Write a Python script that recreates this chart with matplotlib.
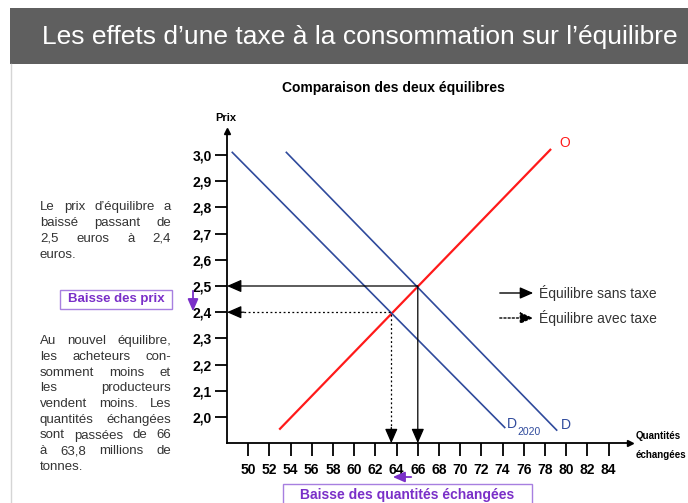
"""Effets d'une taxe à la consommation sur l'équilibre : offre, deux demandes."""
import matplotlib
matplotlib.use("Agg")
import matplotlib.pyplot as plt
from matplotlib.patches import Rectangle, FancyArrowPatch

W, H = 688, 503

# --- data ---
offre_q = [53.0, 78.5]
offre_p = [1.955, 3.02]
demande_q = [53.6, 79.1]
demande_p = [3.01, 1.95]
demande2020_q = [48.5, 74.2]
demande2020_p = [3.01, 1.96]
eq_sans_taxe = (66.0, 2.5)
eq_avec_taxe = (63.5, 2.4)
x_ticks = list(range(50, 86, 2))
y_ticks = [2.0, 2.1, 2.2, 2.3, 2.4, 2.5, 2.6, 2.7, 2.8, 2.9, 3.0]
y_labels = ["2,0", "2,1", "2,2", "2,3", "2,4", "2,5", "2,6", "2,7", "2,8", "2,9", "3,0"]

_RED, _BLUE, _PURPLE, _TXT = "#ff1a1a", "#2f4a9c", "#7a2fc8", "#333333"
_SANS = ["Liberation Sans", "DejaVu Sans"]


def px(x, y):
    return x / W, 1 - y / H


def justify(fig, lines, x0, x1, y0, dy, **kw):
    r = fig.canvas.get_renderer()
    for i, line in enumerate(lines):
        words = line.split()
        y = y0 + i * dy
        if i == len(lines) - 1 or len(words) == 1:
            fig.text(*px(x0, y), line, va="center", **kw)
            continue
        ts = [fig.text(*px(0, y), w, va="center", **kw) for w in words]
        ws = [t.get_window_extent(r).width for t in ts]
        gap = (x1 - x0 - sum(ws)) / (len(words) - 1)
        x = x0
        for t, w in zip(ts, ws):
            t.set_x(x / W)
            x += w + gap


def farrow(fig, p0, p1, color, ls="-", lw=1.0, ms=10):
    fig.patches.append(FancyArrowPatch(px(*p0), px(*p1), transform=fig.transFigure,
                                       arrowstyle="-|>,head_length=0.8,head_width=0.35",
                                       mutation_scale=ms, color=color, lw=lw, ls=ls))


fig = plt.figure(figsize=(W / 100, H / 100), dpi=100, facecolor="white")

# title bar
fig.patches.append(Rectangle(px(10, 64), 678 / W, 56 / H, transform=fig.transFigure,
                             facecolor="#5f5f5f", edgecolor="none"))
fig.add_artist(plt.Line2D([11 / W, 11 / W], [1 - 64 / H, 0], color="#d5d5d5", lw=1))
fig.text(*px(42, 37), "Les effets d’une taxe à la consommation sur l’équilibre",
         color="white", fontsize=19, family=_SANS, va="center")

fig.text(*px(393, 88), "Comparaison des deux équilibres", fontsize=10,
         fontweight="bold", family=_SANS, ha="center", va="center")

# chart axes: x 48..86, y 1.9..3.09
x0p, x1p = 227, 227 + 38 * 10.6
y0p, y1p = 417 + 26.2, 155 - 0.09 * 262
ax = fig.add_axes([x0p / W, 1 - y0p / H, (x1p - x0p) / W, (y0p - y1p) / H])
ax.set_xlim(48, 86)
ax.set_ylim(1.9, 3.09)
ax.set_facecolor("none")
for s in ("top", "right"):
    ax.spines[s].set_visible(False)
for s in ("left", "bottom"):
    ax.spines[s].set_linewidth(1.3)
ax.plot(1, 0, ">k", ms=4, transform=ax.transAxes, clip_on=False)
ax.plot(0, 1, "^k", ms=4, transform=ax.transAxes, clip_on=False)
ax.set_xticks(x_ticks)
ax.set_xticklabels([str(v) for v in x_ticks], fontsize=10, fontweight="bold", family=_SANS)
ax.set_yticks(y_ticks)
ax.set_yticklabels(y_labels, fontsize=10, fontweight="bold", family=_SANS)
ax.tick_params(direction="out", length=9, width=1.3, pad=2)
ax.tick_params(axis="x", pad=5)

ax.plot(offre_q, offre_p, color=_RED, lw=1.6, clip_on=False)
ax.plot(demande_q, demande_p, color=_BLUE, lw=1.2, clip_on=False)
ax.plot(demande2020_q, demande2020_p, color=_BLUE, lw=1.2, clip_on=False)

# equilibrium guides
hs = "-|>,head_length=0.8,head_width=0.35"
aprops = dict(arrowstyle=hs, color="k", lw=0.9, mutation_scale=11, shrinkA=0, shrinkB=0)
qa, pa = eq_sans_taxe
ax.annotate("", xy=(48, pa), xytext=(qa, pa), arrowprops=aprops)
ax.annotate("", xy=(qa, 1.9), xytext=(qa, pa), arrowprops=aprops)
qb, pb = eq_avec_taxe
ax.plot([48.8, qb], [pb, pb], ls=(0, (1.5, 2)), color="k", lw=0.9)
ax.plot([qb, qb], [1.95, pb], ls=(0, (1.5, 2)), color="k", lw=0.9)
ax.annotate("", xy=(48, pb), xytext=(49.6, pb), arrowprops=aprops)
ax.annotate("", xy=(qb, 1.9), xytext=(qb, 1.96), arrowprops=aprops)

# curve labels
fig.text(*px(559, 143), "O", color=_RED, fontsize=10, family=_SANS, va="center")
fig.text(*px(561, 425), "D", color=_BLUE, fontsize=10, family=_SANS, va="center")
fig.text(*px(507, 424), "D", color=_BLUE, fontsize=10, family=_SANS, va="center")
fig.text(*px(517, 432), "2020", color=_BLUE, fontsize=7.5, family=_SANS, va="center")

fig.text(*px(226, 118), "Prix", fontsize=8, fontweight="bold", family=_SANS,
         ha="center", va="center")
fig.text(*px(636, 436), "Quantités", fontsize=7, fontweight="bold", family=_SANS, va="center")
fig.text(*px(636, 455), "échangées", fontsize=7, fontweight="bold", family=_SANS, va="center")

# legend
farrow(fig, (497, 293), (536, 293), "k", lw=1.0)
farrow(fig, (497, 318), (536, 318), "k", ls=(0, (1.5, 1.5)), lw=1.0)
fig.text(*px(539, 293), "Équilibre sans taxe", fontsize=10, family=_SANS, color=_TXT, va="center")
fig.text(*px(539, 318), "Équilibre avec taxe", fontsize=10, family=_SANS, color=_TXT, va="center")

# left commentary
justify(fig, ["Le prix d’équilibre a", "baissé passant de", "2,5 euros à 2,4", "euros."],
        40, 171, 207, 15.9, fontsize=9.5, family=_SANS, color=_TXT)
justify(fig, ["Au nouvel équilibre,", "les acheteurs con-", "somment moins et",
              "les producteurs", "vendent moins. Les", "quantités échangées",
              "sont passées de 66", "à 63,8 millions de", "tonnes."],
        40, 171, 341, 15.75, fontsize=9.5, family=_SANS, color=_TXT)

# purple callouts
fig.patches.append(Rectangle(px(60, 309), 112 / W, 19 / H, transform=fig.transFigure,
                             facecolor="white", edgecolor="#a77fe0", lw=1))
fig.text(*px(116, 299), "Baisse des prix", fontsize=9.5, fontweight="bold", family=_SANS,
         color=_PURPLE, ha="center", va="center")
farrow(fig, (193, 288), (193, 314), _PURPLE, lw=1.3, ms=9)

fig.patches.append(Rectangle(px(283, 506), 249 / W, 22 / H, transform=fig.transFigure,
                             facecolor="white", edgecolor="#a77fe0", lw=1))
fig.text(*px(407, 495), "Baisse des quantités échangées", fontsize=10, fontweight="bold",
         family=_SANS, color=_PURPLE, ha="center", va="center")
farrow(fig, (414, 477), (390, 477), _PURPLE, lw=1.3, ms=9)

fig.savefig("out.png", dpi=100, facecolor="white")
